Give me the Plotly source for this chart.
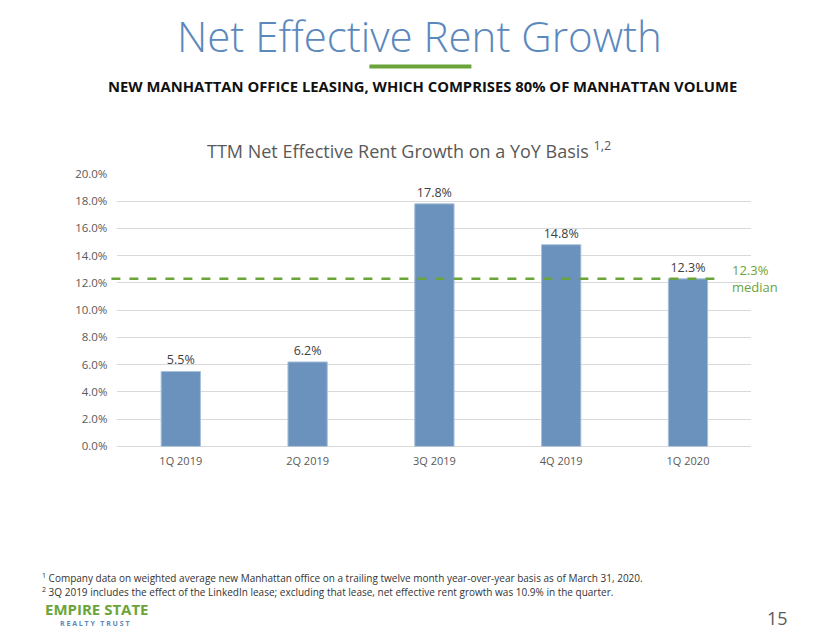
import plotly.graph_objects as go

# === DATA ===
quarters = ["1Q 2019", "2Q 2019", "3Q 2019", "4Q 2019", "1Q 2020"]
growth = [5.5, 6.2, 17.8, 14.8, 12.3]
median_growth = 12.3
y_ticks = [0, 2, 4, 6, 8, 10, 12, 14, 16, 18, 20]
y_tick_labels = [f"{v:.1f}%" for v in y_ticks]

footnotes = [
    "<sup>1</sup> Company data on weighted average new Manhattan office on a trailing twelve month "
    "year-over-year basis as of March 31, 2020.",
    "<sup>2</sup> 3Q 2019 includes the effect of the LinkedIn lease; excluding that lease, net effective "
    "rent growth was 10.9% in the quarter.",
]

W, H = 840, 630
BLUE = "#6A92BC"
GREEN = "#6BA43A"
GRAY = "#595959"
FONT = "Open Sans"


# the page is drawn a bit offset/squeezed, so map wanted screen pixels back to figure pixels
def fx(px):
    return (px - 8.6) / W


def fy(py):
    return 1 - ((py - 16.5) / 0.974) / H


fig = go.Figure()

# --- Bars ---
fig.add_trace(go.Bar(
    x=quarters, y=growth,
    marker=dict(color=BLUE, line=dict(color="#A9C1DB", width=1)),
    text=[f"{v:.1f}%" for v in growth],
    textposition="outside",
    textfont=dict(family=FONT, size=12.5, color="#404040"),
    cliponaxis=False,
    width=0.31,
    hoverinfo="skip",
))

# --- Median line (dashed green) ---
fig.add_shape(
    type="line", xref="paper", yref="y",
    x0=fx(112), x1=fx(722),
    y0=median_growth, y1=median_growth,
    line=dict(color=GREEN, width=2.5, dash="dash"),
)
fig.add_annotation(
    xref="paper", yref="y",
    x=fx(731), y=median_growth,
    text=f"{median_growth:.1f}%<br>median",
    showarrow=False, xanchor="left", yanchor="middle", align="left",
    font=dict(family=FONT, size=13, color=GREEN),
)

# --- Page texts ---
fig.add_annotation(
    xref="paper", yref="paper", x=fx(420), y=fy(36),
    text="Net Effective Rent Growth", showarrow=False,
    xanchor="center", yanchor="middle",
    font=dict(family=FONT, size=42, color="#5B88BD", weight=300),
)
fig.add_shape(
    type="line", xref="paper", yref="paper",
    x0=fx(370), x1=fx(472), y0=fy(67), y1=fy(67),
    line=dict(color=GREEN, width=4),
)
fig.add_annotation(
    xref="paper", yref="paper", x=fx(423), y=fy(86),
    text="<b>NEW MANHATTAN OFFICE LEASING, WHICH COMPRISES 80% OF MANHATTAN VOLUME</b>",
    showarrow=False, xanchor="center", yanchor="middle",
    font=dict(family=FONT, size=14.8, color="#111111"),
)
fig.add_annotation(
    xref="paper", yref="paper", x=fx(410), y=fy(150),
    text="TTM Net Effective Rent Growth on a YoY Basis <sup>1,2</sup>",
    showarrow=False, xanchor="center", yanchor="middle",
    font=dict(family=FONT, size=18, color=GRAY),
)
for i, note in enumerate(footnotes):
    fig.add_annotation(
        xref="paper", yref="paper", x=fx(41), y=fy(577 + 14 * i),
        text=note, showarrow=False, xanchor="left", yanchor="middle",
        font=dict(family=FONT, size=10, color="#333333"),
    )
fig.add_annotation(
    xref="paper", yref="paper", x=fx(44), y=fy(608),
    text="<b>EMPIRE STATE</b>", showarrow=False, xanchor="left", yanchor="middle",
    font=dict(family=FONT, size=15, color=GREEN),
)
fig.add_annotation(
    xref="paper", yref="paper", x=fx(59), y=fy(623),
    text="<b>R E A L T Y   T R U S T</b>", showarrow=False, xanchor="left", yanchor="middle",
    font=dict(family=FONT, size=7, color="#5B88BD"),
)
fig.add_annotation(
    xref="paper", yref="paper", x=fx(791), y=fy(617),
    text="15", showarrow=False, xanchor="right", yanchor="middle",
    font=dict(family=FONT, size=18, color=GRAY),
)

# === Layout ===
fig.update_layout(
    width=W, height=H,
    margin=dict(l=0, r=0, t=0, b=0),
    plot_bgcolor="white", paper_bgcolor="white",
    showlegend=False,
    xaxis=dict(
        domain=[fx(118), fx(752)],
        showgrid=False, showline=False, ticks="", ticklabelstandoff=7,
        tickfont=dict(family=FONT, size=11, color=GRAY),
    ),
    yaxis=dict(
        domain=[fy(446), fy(174)],
        range=[0, 20],
        tickvals=y_ticks, ticktext=y_tick_labels,
        showgrid=True, gridcolor="#D9D9D9", gridwidth=1,
        zeroline=True, zerolinecolor="#D9D9D9", zerolinewidth=1,
        showline=False, ticks="", ticklabelstandoff=9,
        tickfont=dict(family=FONT, size=11.5, color=GRAY),
    ),
)

fig.write_html("out.html")
